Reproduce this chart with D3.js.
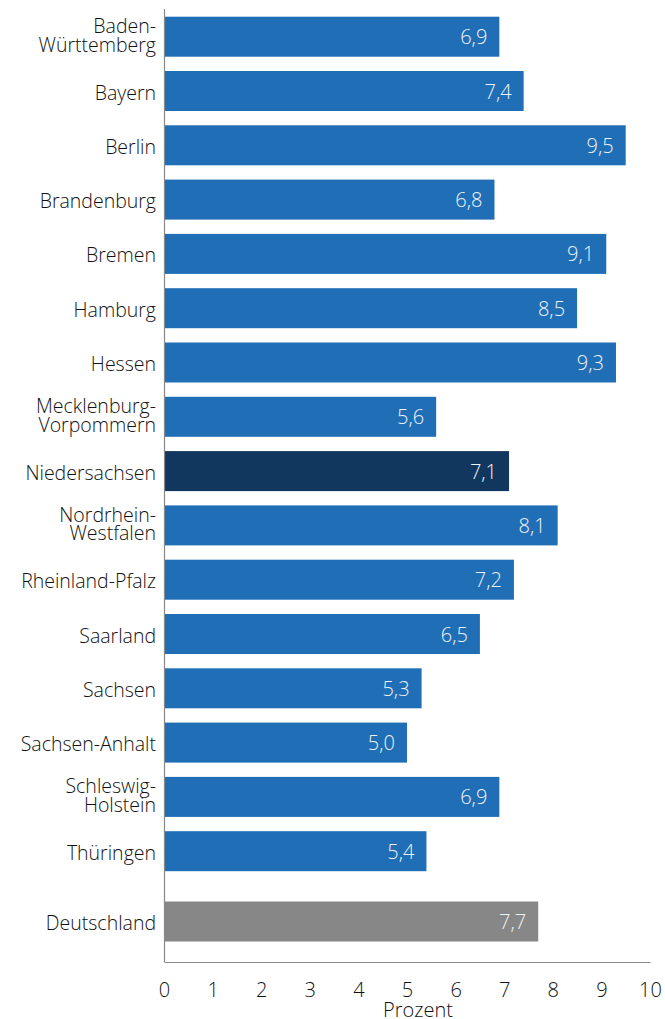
<!DOCTYPE html>
<html>
<head>
<meta charset="utf-8">
<script src="https://cdn.jsdelivr.net/npm/d3@7"></script>
<style>
  body { margin: 0; background: #fff; }
  svg text { font-family: "Open Sans", sans-serif; font-weight: 300; }
</style>
</head>
<body>
<div id="chart"></div>
<script>
// Länder and their values (Prozent)
const states = [
  'Baden-Württemberg', 'Bayern', 'Berlin', 'Brandenburg', 'Bremen', 'Hamburg',
  'Hessen', 'Mecklenburg-Vorpommern', 'Niedersachsen', 'Nordrhein-Westfalen',
  'Rheinland-Pfalz', 'Saarland', 'Sachsen', 'Sachsen-Anhalt',
  'Schleswig-Holstein', 'Thüringen'
]
const values = [6.9, 7.4, 9.5, 6.8, 9.1, 8.5, 9.3, 5.6, 7.1, 8.1, 7.2, 6.5, 5.3, 5.0, 6.9, 5.4]
const total = { name: 'Deutschland', value: 7.7 }
const highlight = 'Niedersachsen'
const ticks = [0, 1, 2, 3, 4, 5, 6, 7, 8, 9, 10]
// labels that break onto two lines
const labelLines = {
  'Baden-Württemberg': ['Baden-', 'Württemberg'],
  'Mecklenburg-Vorpommern': ['Mecklenburg-', 'Vorpommern'],
  'Nordrhein-Westfalen': ['Nordrhein-', 'Westfalen'],
  'Schleswig-Holstein': ['Schleswig-', 'Holstein']
}

const W = 665, H = 1019
const mLeft = 164, mRight = 650
const mTop = 16.7, step = 54.3, barH = 40

const svg = d3.select('#chart').append('svg')
  .attr('width', W).attr('height', H)

const x = d3.scaleLinear().domain([0, 10]).range([mLeft, mRight])
const y = d3.scaleBand().domain(states)
  .range([mTop, mTop + states.length * step - (step - barH)])
  .paddingInner((step - barH) / step)

const deY = y(states[states.length - 1]) + step + 16

const rows = states.map((s, i) => ({ name: s, value: values[i], y: y(s) }))
rows.push({ name: total.name, value: total.value, y: deY })

const color = d => d.name === highlight ? '#12375e'
  : d.name === total.name ? '#878787' : '#206eb5'

svg.selectAll('rect.bar').data(rows).enter().append('rect')
  .attr('class', 'bar')
  .attr('x', x(0))
  .attr('y', d => d.y)
  .attr('width', d => x(d.value) - x(0))
  .attr('height', barH)
  .attr('fill', color)

svg.selectAll('text.val').data(rows).enter().append('text')
  .attr('class', 'val')
  .attr('x', d => x(d.value) - 12)
  .attr('y', d => d.y + barH / 2 + 7.5)
  .attr('text-anchor', 'end')
  .attr('fill', '#eef3f9')
  .style('font-size', '20px')
  .text(d => d3.format('.1f')(d.value).replace('.', ','))

// category labels, one text per line
const labRows = []
rows.forEach(d => {
  const lines = labelLines[d.name] || [d.name]
  const c = d.y + barH / 2
  lines.forEach((l, i) => {
    const base = lines.length === 1 ? c + 8.5 : c - 3.5 + i * 18.5
    labRows.push({ text: l, y: base })
  })
})
svg.selectAll('text.lab').data(labRows).enter().append('text')
  .attr('class', 'lab')
  .attr('x', 156)
  .attr('y', d => d.y)
  .attr('text-anchor', 'end')
  .attr('fill', '#111')
  .style('font-size', '19.5px')
  .text(d => d.text)

// y axis line
svg.append('line')
  .attr('x1', x(0) + 0.5).attr('x2', x(0) + 0.5)
  .attr('y1', 9).attr('y2', 962)
  .attr('stroke', '#888').attr('stroke-width', 1.2)

// x axis
const xAxis = svg.append('g')
  .attr('transform', 'translate(0,962)')
  .call(d3.axisBottom(x).tickValues(ticks).tickSize(0).tickPadding(21))
xAxis.select('.domain').attr('stroke', '#888').attr('stroke-width', 1.2)
xAxis.selectAll('text')
  .attr('fill', '#111')
  .style('font-size', '20px')
  .style('font-family', '"Open Sans", sans-serif')
  .style('font-weight', 300)

svg.append('text')
  .attr('x', 418)
  .attr('y', 1017)
  .attr('text-anchor', 'middle')
  .attr('fill', '#111')
  .style('font-size', '20px')
  .text('Prozent')
</script>
</body>
</html>
